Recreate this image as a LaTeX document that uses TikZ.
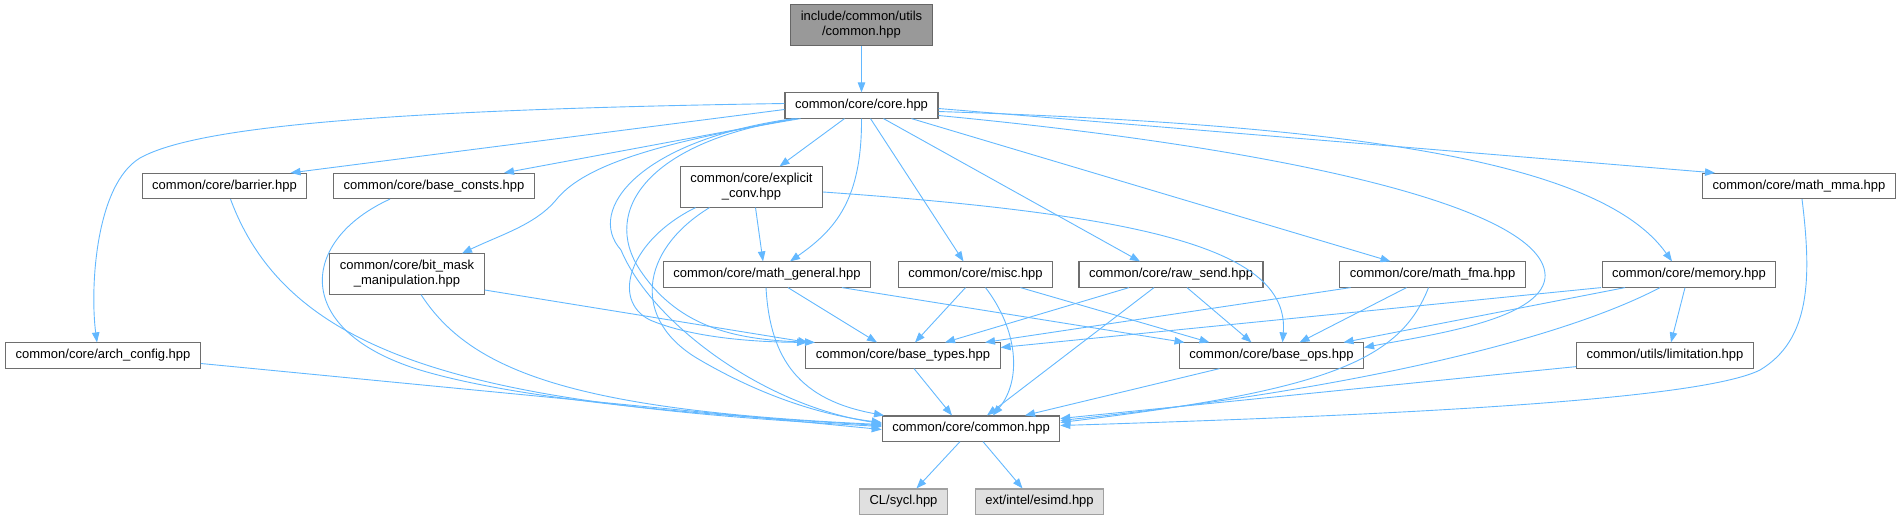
\documentclass[tikz,border=0pt]{standalone}
\usepackage{fontspec}
\setmainfont{Liberation Sans}
\usetikzlibrary{arrows.meta}
\definecolor{edgecolor}{RGB}{99,184,255}
\definecolor{filecolor}{RGB}{110,110,110}
\definecolor{rootfill}{RGB}{153,153,153}
\definecolor{rootborder}{RGB}{102,102,102}
\definecolor{extfill}{RGB}{224,224,224}
\definecolor{extborder}{RGB}{160,160,160}

\begin{document}
\begin{tikzpicture}[
    x=1pt, y=-1pt,
    file/.style={rectangle, draw=filecolor, fill=white, line width=1.1pt, inner xsep=10pt, inner ysep=6.5pt, minimum height=25pt, align=center, font=\fontsize{13pt}{15pt}\selectfont},
    root/.style={file, fill=rootfill, draw=rootborder},
    ext/.style={file, fill=extfill, draw=extborder},
    inc/.style={-{Triangle[length=10pt,width=7.5pt]}, draw=edgecolor, line width=0.9pt}
]
\useasboundingbox (0,0) rectangle (1902,520);

% ===== FILES =====
\node[root] (top) at (861.5,25) {include/common/utils\\/common.hpp};
\node[file] (core) at (861.5,105.5) {common/core/core.hpp};

\node[file] (barrier) at (224.5,186) {common/core/barrier.hpp};
\node[file] (consts) at (434,186) {common/core/base\_consts.hpp};
\node[file] (explicit) at (751.5,187) {common/core/explicit\\\_conv.hpp};
\node[file] (mma) at (1799,186) {common/core/math\_mma.hpp};

\node[file] (bitmask) at (407,274) {common/core/bit\_mask\\\_manipulation.hpp};
\node[file] (general) at (767,274.5) {common/core/math\_general.hpp};
\node[file] (misc) at (975.5,274.5) {common/core/misc.hpp};
\node[file] (rawsend) at (1171,274.5) {common/core/raw\_send.hpp};
\node[file] (fma) at (1432.5,274.5) {common/core/math\_fma.hpp};
\node[file] (memory) at (1689,274.5) {common/core/memory.hpp};

\node[file] (arch) at (103,355.5) {common/core/arch\_config.hpp};
\node[file] (types) at (903,355.5) {common/core/base\_types.hpp};
\node[file] (ops) at (1271.5,355.5) {common/core/base\_ops.hpp};
\node[file] (limit) at (1665,355.5) {common/utils/limitation.hpp};

\node[file] (common) at (971,428.5) {common/core/common.hpp};
\node[ext] (sycl) at (903.5,501.5) {CL/sycl.hpp};
\node[ext] (esimd) at (1039.5,501.5) {ext/intel/esimd.hpp};

% ===== FROM TOP / CORE =====
\draw[inc] (top) -- (core);
\draw[inc] ([yshift=2pt]core.west) .. controls (350,110) and (190,130) .. (140,158) .. controls (95,185) and (90,290) .. ([xshift=-6pt]arch.north);
\draw[inc] ([yshift=-4pt]core.west) -- ([xshift=66pt]barrier.north);
\draw[inc] ([xshift=-66pt]core.south) -- ([xshift=70pt]consts.north);
\draw[inc] ([xshift=-61pt]core.south) .. controls (640,145) and (580,170) .. (556,200) .. controls (535,225) and (500,235) .. ([xshift=55pt]bitmask.north);
\draw[inc] ([xshift=-17pt]core.south) -- ([xshift=28pt]explicit.north);
\draw[inc] (core.south) .. controls (862,200) and (835,230) .. ([xshift=23pt]general.north);
\draw[inc] ([xshift=9pt]core.south) -- ([xshift=-12pt]misc.north);
\draw[inc] ([xshift=22pt]core.south) -- ([xshift=-31pt]rawsend.north);
\draw[inc] ([xshift=50pt]core.south) -- ([xshift=-42pt]fma.north);
\draw[inc] ([yshift=-6pt]core.east) .. controls (1350,125) and (1600,160) .. ([xshift=-17pt]memory.north);
\draw[inc] ([yshift=-3pt]core.east) -- ([xshift=-84pt]mma.north);
\draw[inc] ([yshift=-10pt]core.east) .. controls (1300,150) and (1550,210) .. (1545,278) .. controls (1540,320) and (1430,335) .. ([yshift=8pt]ops.east);
\draw[inc] ([xshift=-64pt]core.south) .. controls (650,140) and (600,210) .. (640,270) .. controls (680,330) and (740,340) .. ([xshift=-88pt]types.north);
\draw[inc] ([xshift=-68pt]core.south) .. controls (640,140) and (585,210) .. (621,250) .. controls (650,320) and (760,405) .. ([yshift=5pt]common.west);

% ===== SECOND ROW =====
\draw[inc] ([xshift=-56pt]explicit.south) .. controls (630,240) and (610,300) .. (650,320) .. controls (690,337) and (750,342) .. ([xshift=-96pt]types.north);
\draw[inc] ([xshift=-42pt]explicit.south) .. controls (640,250) and (630,320) .. (700,360) .. controls (760,395) and (820,415) .. ([yshift=6pt]common.west);
\draw[inc] ([xshift=4pt]explicit.south) -- ([xshift=-4pt]general.north);
\draw[inc] ([yshift=-5pt]explicit.east) .. controls (1150,215) and (1290,250) .. ([xshift=11pt]ops.north);
\draw[inc] ([xshift=6pt]barrier.south) .. controls (290,360) and (480,405) .. ([yshift=2pt]common.west);
\draw[inc] ([xshift=-44pt]consts.south) .. controls (300,240) and (290,330) .. (420,370) .. controls (520,400) and (700,415) .. ([yshift=3pt]common.west);
\draw[inc] ([xshift=3pt]mma.south) .. controls (1812,280) and (1810,340) .. (1760,370) .. controls (1700,400) and (1400,415) .. ([yshift=3pt]common.east);

% ===== THIRD ROW =====
\draw[inc] ([yshift=-16pt]bitmask.east) -- ([xshift=-95pt]types.north);
\draw[inc] ([xshift=14pt]bitmask.south) .. controls (470,370) and (570,410) .. ([yshift=4pt]common.west);
\draw[inc] ([xshift=21pt]general.south) -- ([xshift=-26pt]types.north);
\draw[inc] ([xshift=75pt]general.south) -- ([xshift=-87pt]ops.north);
\draw[inc] ([xshift=-1pt]general.south) .. controls (770,360) and (800,400) .. ([xshift=-87pt]common.north);
\draw[inc] ([xshift=-10pt]misc.south) -- ([xshift=12pt]types.north);
\draw[inc] ([xshift=45pt]misc.south) -- ([xshift=-62pt]ops.north);
\draw[inc] ([xshift=10pt]misc.south) .. controls (1018,330) and (1022,380) .. ([xshift=22pt]common.north);
\draw[inc] ([xshift=-42pt]rawsend.south) -- ([xshift=42pt]types.north);
\draw[inc] ([xshift=16pt]rawsend.south) -- ([xshift=-20pt]ops.north);
\draw[inc] ([xshift=-17pt]rawsend.south) -- ([xshift=16pt]common.north);
\draw[inc] ([xshift=-82pt]fma.south) -- ([xshift=82pt]types.north);
\draw[inc] ([xshift=-26pt]fma.south) -- ([xshift=28pt]ops.north);
\draw[inc] ([xshift=-4pt]fma.south) .. controls (1400,360) and (1330,390) .. ([yshift=6pt]common.east);
\draw[inc] ([xshift=-88pt]memory.south) -- ([yshift=8pt]types.east);
\draw[inc] ([xshift=-64pt]memory.south) -- ([xshift=72pt]ops.north);
\draw[inc] ([xshift=-29pt]memory.south) .. controls (1560,340) and (1350,390) .. ([yshift=8pt]common.east);
\draw[inc] ([xshift=-4pt]memory.south) -- ([xshift=6pt]limit.north);

% ===== FOURTH ROW =====
\draw[inc] ([yshift=-8pt]arch.east) -- ([yshift=-1pt]common.west);
\draw[inc] ([xshift=11pt]types.south) -- ([xshift=-19pt]common.north);
\draw[inc] ([xshift=-52pt]ops.south) -- ([xshift=54pt]common.north);
\draw[inc] ([yshift=2pt]limit.south west) -- ([yshift=10pt]common.east);
\draw[inc] ([xshift=-11pt]common.south) -- ([xshift=13pt]sycl.north);
\draw[inc] ([xshift=12pt]common.south) -- ([xshift=-17pt]esimd.north);

\end{tikzpicture}
\end{document}
